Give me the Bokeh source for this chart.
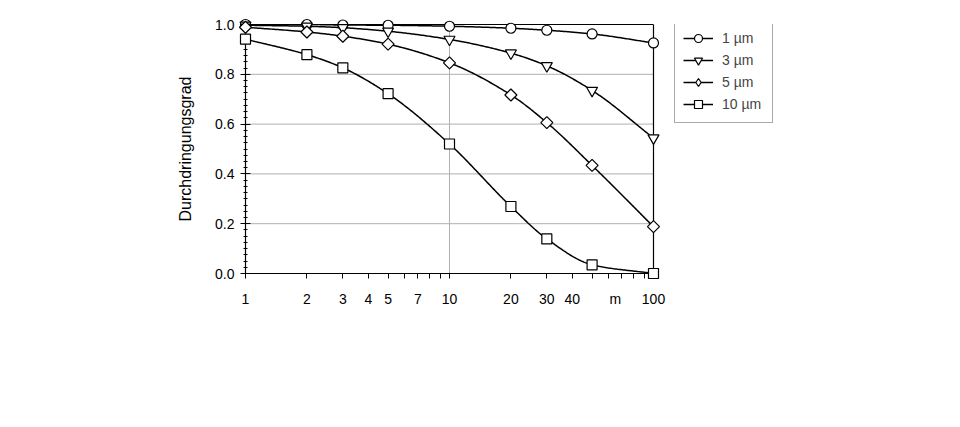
import numpy as np
from bokeh.plotting import figure
from bokeh.models import (FixedTicker, Legend, LegendItem, Range1d,
                          LogAxis, Span)
from bokeh.embed import file_html
from bokeh.resources import INLINE

# ---- data ----
distances = [1, 2, 3, 5, 10, 20, 30, 50, 100]
p_1um = [1.000, 1.000, 0.998, 0.997, 0.993, 0.985, 0.977, 0.962, 0.926]
p_3um = [0.997, 0.993, 0.987, 0.973, 0.940, 0.885, 0.834, 0.735, 0.544]
p_5um = [0.989, 0.970, 0.953, 0.921, 0.846, 0.717, 0.606, 0.434, 0.188]
p_10um = [0.941, 0.879, 0.826, 0.722, 0.520, 0.269, 0.139, 0.035, 0.000]
series_labels = ["1 µm", "3 µm", "5 µm", "10 µm"]
x_ticks = [1, 2, 3, 4, 5, 7, 10, 20, 30, 40, 65, 100]
x_tick_labels = ["1", "2", "3", "4", "5", "7", "10", "20", "30", "40", "m", "100"]
x_tick_marks = [1, 2, 3, 4, 5, 6, 7, 8, 9, 10, 20, 30, 40, 50, 60, 70, 80, 90, 100]
y_ticks = [0.0, 0.2, 0.4, 0.6, 0.8, 1.0]
y_grid = [0.2, 0.4, 0.6, 0.8]
y_label = "Durchdringungsgrad"

FONT = "Liberation Sans"


def pchip(xs, ys, n=300):
    xs = np.asarray(xs, float)
    ys = np.asarray(ys, float)
    h = np.diff(xs)
    d = np.diff(ys) / h
    m = np.zeros_like(xs)
    for k in range(1, len(xs) - 1):
        if d[k - 1] * d[k] <= 0:
            m[k] = 0
        else:
            w1 = 2 * h[k] + h[k - 1]
            w2 = h[k] + 2 * h[k - 1]
            m[k] = (w1 + w2) / (w1 / d[k - 1] + w2 / d[k])
    m[0] = d[0]
    m[-1] = d[-1]
    xx = np.linspace(xs[0], xs[-1], n)
    idx = np.clip(np.searchsorted(xs, xx) - 1, 0, len(xs) - 2)
    t = (xx - xs[idx]) / h[idx]
    h00 = 2 * t**3 - 3 * t**2 + 1
    h10 = t**3 - 2 * t**2 + t
    h01 = -2 * t**3 + 3 * t**2
    h11 = t**3 - t**2
    yy = h00 * ys[idx] + h10 * h[idx] * m[idx] + h01 * ys[idx + 1] + h11 * h[idx] * m[idx + 1]
    return xx, yy


# ---- layout (pixels) ----
LEFT, TOP, PLOT_W, PLOT_H = 245, 24, 408, 249   # axes box of the chart
EXTRA_W = 140                                   # frame continues right to hold the legend
RIGHT_B = 20
x0, x1 = distances[0], distances[-1]
y0, y1 = y_ticks[0], y_ticks[-1]
decades = np.log10(x1 / x0)
px_per_dec = PLOT_W / decades
xmax = x1 * 10 ** (EXTRA_W / px_per_dec)
FW = PLOT_W + EXTRA_W
W = LEFT + FW + RIGHT_B
H = 411

p = figure(width=int(W), height=H, x_axis_type="log",
           x_range=Range1d(x0, xmax), y_range=Range1d(y0, y1),
           output_backend="svg", toolbar_location=None,
           min_border_left=LEFT, min_border_top=TOP,
           min_border_right=RIGHT_B, min_border_bottom=H - TOP - PLOT_H)
p.background_fill_color = "white"
p.border_fill_color = "white"
p.outline_line_color = None

xa = p.xaxis[0]
ya = p.yaxis[0]
xa.bounds = (x0, x1)
xa.ticker = FixedTicker(ticks=x_ticks, minor_ticks=x_tick_marks)
xa.major_label_overrides = {t: lab for t, lab in zip(x_ticks, x_tick_labels)}
ya.ticker = FixedTicker(ticks=y_ticks, minor_ticks=list(np.round(np.arange(0, 1.0001, 0.025), 3)))
ya.major_label_overrides = {t: f"{t:.1f}" for t in y_ticks}

for ax in (xa, ya):
    ax.axis_line_color = "black"
    ax.axis_line_width = 1.2
    ax.major_tick_line_color = "black"
    ax.minor_tick_line_color = "black"
    ax.major_label_text_font = FONT
    ax.major_label_text_font_size = "14px"
    ax.major_label_text_color = "black"

xa.major_tick_in = 0
xa.major_tick_out = 0
xa.minor_tick_in = 0
xa.minor_tick_out = 5
xa.major_label_standoff = 12
ya.major_tick_in = 5
ya.major_tick_out = 5
ya.minor_tick_in = 2
ya.minor_tick_out = 2
ya.major_label_standoff = 6

ya.axis_label = y_label
ya.axis_label_text_font = FONT
ya.axis_label_text_font_size = "16px"
ya.axis_label_text_font_style = "normal"
ya.axis_label_text_color = "black"
ya.axis_label_standoff = 18

# top and right frame lines of the chart box
top = LogAxis(bounds=(x0, x1), major_tick_in=0, major_tick_out=0,
              minor_tick_in=0, minor_tick_out=0, major_label_text_font_size="0px",
              axis_line_color="black", axis_line_width=1.2)
top.ticker = FixedTicker(ticks=[])
p.add_layout(top, "above")
p.add_layout(Span(location=x1, dimension="height", line_color="black", line_width=1.2))

# grid lines (only inside the chart box)
p.xgrid.ticker = FixedTicker(ticks=[10])
p.xgrid.grid_line_color = "#b0b0b0"
p.ygrid.visible = False
p.segment(x0=[x0] * len(y_grid), y0=y_grid, x1=[x1] * len(y_grid), y1=y_grid,
          line_color="#b0b0b0", line_width=1, level="underlay")

markers = ["circle", "inverted_triangle", "square", "square"]
legend_markers = ["circle", "inverted_triangle", "diamond", "square"]
angles = [0, 0, np.pi / 4, 0]
sizes = [10, 11, 8.5, 10]
series = [p_1um, p_3um, p_5um, p_10um]
items = []
for lab, vals, mk, lmk, sz, ang in zip(series_labels, series, markers, legend_markers, sizes, angles):
    lx, ly = pchip(np.log10(distances), vals)
    lr = p.line(10 ** lx, ly, line_color="black", line_width=1.5)
    sr = p.scatter(distances, vals, marker=mk, size=sz, angle=ang, fill_color="white",
                   line_color="black", line_width=1.2, level="overlay")
    if lmk != mk:
        # legend glyphs are never rotated: a diamond hidden under the rotated squares
        sr = p.scatter(distances, vals, marker=lmk, size=10, fill_color="white",
                       line_color="black", line_width=1.2)
    items.append(LegendItem(label=lab, renderers=[lr, sr]))

legend = Legend(items=items, location=(429, 150), orientation="vertical")
legend.border_line_color = "#555555"
legend.border_line_width = 1
legend.background_fill_alpha = 1
legend.label_text_font = FONT
legend.label_text_font_size = "14px"
legend.glyph_width = 30
legend.glyph_height = 20
legend.spacing = 2
legend.padding = 8
legend.margin = 0
legend.label_standoff = 9
legend.label_width = 42
p.add_layout(legend, "center")

open("out.html", "w").write(file_html(p, INLINE))
